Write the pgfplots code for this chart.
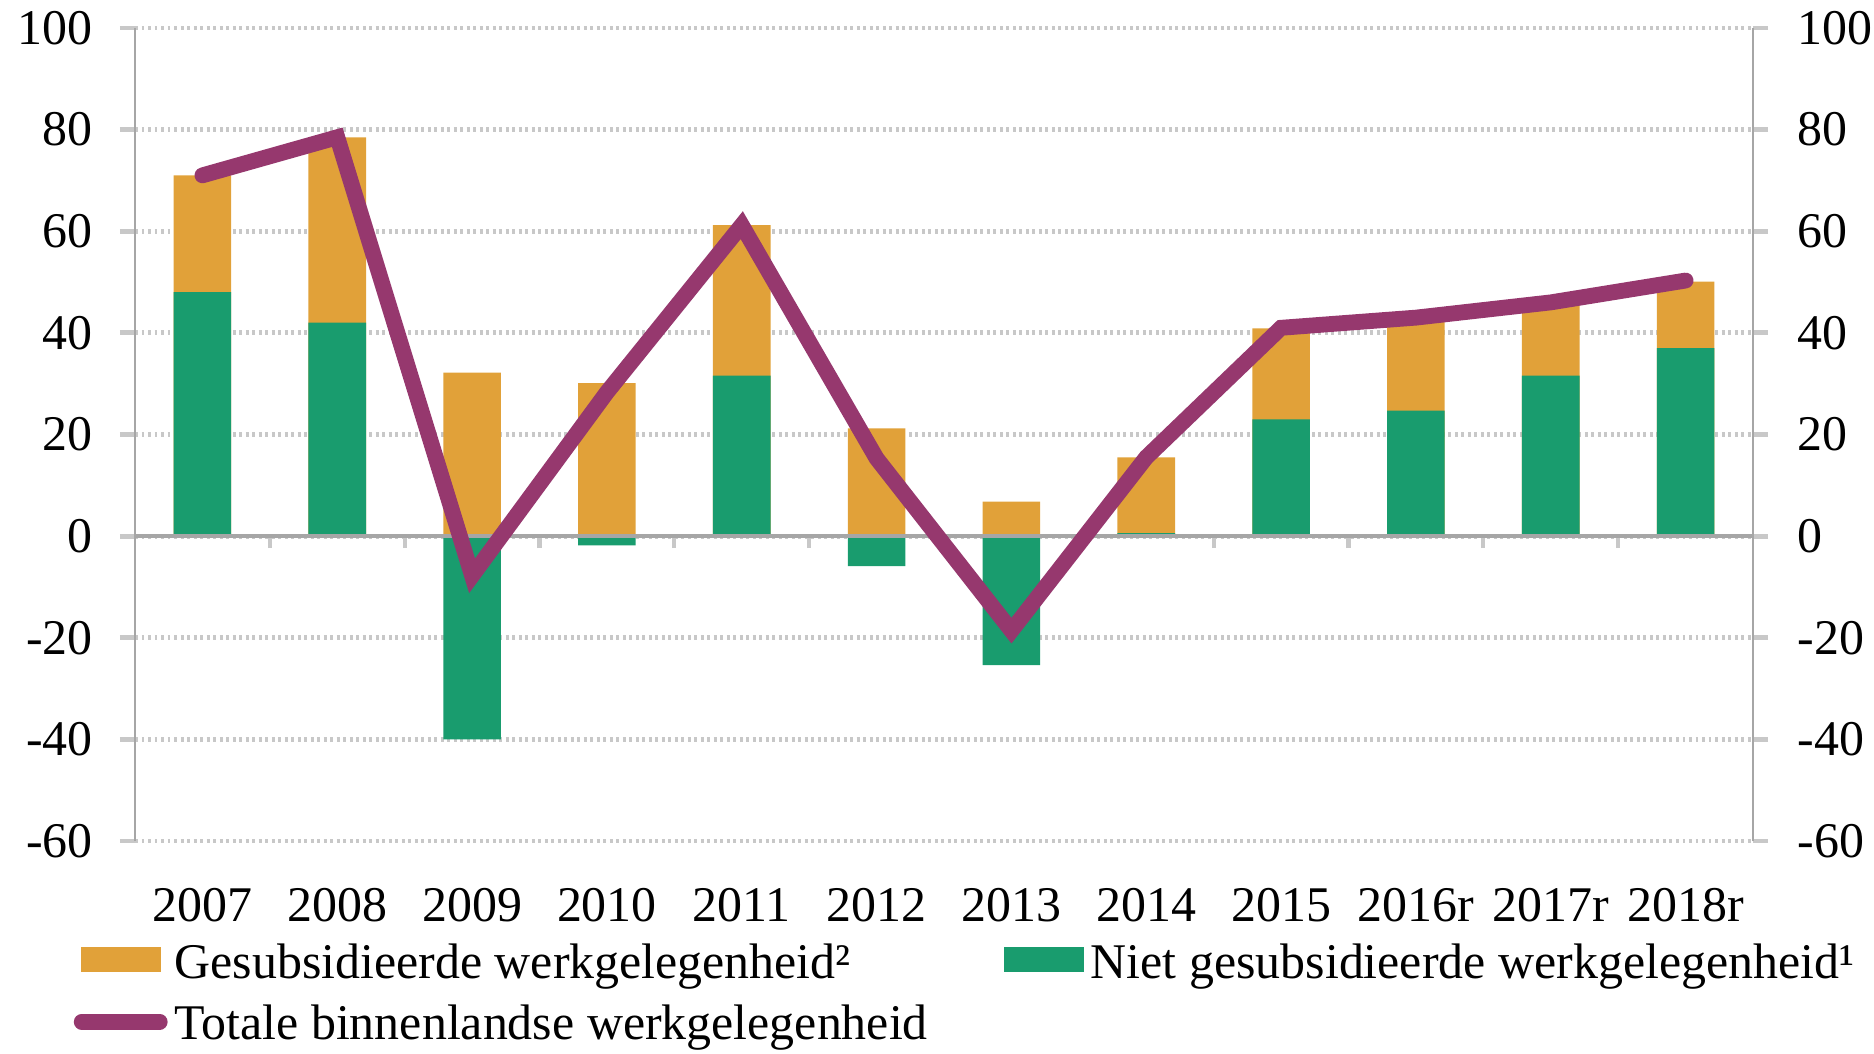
\documentclass[border=0pt]{standalone}
\usepackage{pgfplots}
\pgfplotsset{compat=1.18}
\usepackage{fontspec}
\setmainfont{Liberation Serif}
\definecolor{cOrange}{HTML}{E1A139}
\definecolor{cGreen}{HTML}{199C6E}
\definecolor{cPurple}{HTML}{96386E}
\definecolor{cGrid}{HTML}{C8C8C8}
\definecolor{cAxis}{HTML}{A6A6A6}
\begin{document}
\begin{tikzpicture}
\useasboundingbox (-1.35,-2.12) rectangle (17.39,8.41);
\pgfplotsset{
  base/.style={
    scale only axis, width=16.18cm, height=8.13cm,
    at={(0,0)}, anchor=south west,
    xmin=-0.5, xmax=11.5, ymin=-60, ymax=100,
    ytick={-60,-40,...,100},
    /pgf/number format/assume math mode=true,
    tick label style={font=\fontsize{14.2}{16}\selectfont},
  }
}
% grid, bars, legend
\begin{axis}[base,
  separate axis lines,
  every outer x axis line/.append style={draw=none},
  every outer y axis line/.append style={draw=cAxis, line width=0.8pt},
  ymajorgrids, grid style={cGrid, line width=1.4pt, dash pattern=on 0.85pt off 1pt},
  ytick pos=left, tick align=outside, major tick length=0.15cm,
  ytick style={cGrid, line width=1.4pt},
  yticklabel style={xshift=-0.15cm},
  xtick={0,...,11}, xtick style={draw=none},
  xticklabels={2007,2008,2009,2010,2011,2012,2013,2014,2015,2016r,2017r,2018r},
  xticklabel style={yshift=-0.2cm},
  legend columns=2,
  legend cell align=left,
  legend style={at={(-0.0383,-0.1164)}, anchor=north west, draw=none, fill=none,
    font=\fontsize{14.2}{16}\selectfont, inner sep=0pt,
    /tikz/every even column/.append style={column sep=0.62cm},
    row sep=0.08cm},
]
\addplot[ybar, bar width=0.576cm, bar shift=0pt, fill=cOrange, draw=none,
  legend image code/.code={\path[draw=none,fill=none] (0,0) rectangle (0.87cm,0.1cm);\fill[cOrange] (0.07cm,-0.09cm) rectangle (0.87cm,0.16cm);}]
  coordinates {(0,71.0) (1,78.5) (2,32.2) (3,30.1) (4,61.2) (5,21.2) (6,6.8) (7,15.5) (8,40.9) (9,43.0) (10,46.0) (11,50.1)};
\addlegendentry{Gesubsidieerde werkgelegenheid²}
\addplot[ybar, bar width=0.576cm, bar shift=0pt, fill=cGreen, draw=none,
  legend image code/.code={\path[draw=none,fill=none] (0,0) rectangle (0.87cm,0.1cm);\fill[cGreen] (0.07cm,-0.09cm) rectangle (0.87cm,0.16cm);}]
  coordinates {(0,48.0) (1,42.0) (2,-40.0) (3,-1.8) (4,31.6) (5,-5.9) (6,-25.4) (7,0.6) (8,23.0) (9,24.7) (10,31.6) (11,37.0)};
\addlegendentry{Niet gesubsidieerde werkgelegenheid¹}
\addlegendimage{legend image code/.code={\path[draw=none,fill=none] (0,0) rectangle (0.87cm,0.1cm);\draw[cPurple, line width=4.5pt, line cap=round] (0.08cm,0.035cm) -- (0.86cm,0.035cm);}}
\addlegendentry{Totale binnenlandse werkgelegenheid}
\end{axis}
% zero line with ticks
\begin{axis}[base,
  axis x line=middle, axis y line=none,
  axis line style={-},
  x axis line style={draw=cAxis, line width=1pt},
  xtick={0.5,1.5,...,10.5}, xticklabels={},
  tick align=outside, major tick length=0.12cm,
  xtick style={cGrid, line width=1.2pt},
]
\end{axis}
% total line and right axis
\begin{axis}[base,
  axis y line*=right, axis x line=none,
  axis line style={-},
  y axis line style={draw=cAxis, line width=0.8pt},
  tick align=outside, major tick length=0.15cm,
  ytick style={cGrid, line width=1.4pt},
  yticklabel style={xshift=0.17cm},
]
\addplot[cPurple, line width=4.5pt, line cap=round, line join=miter, mark=none]
  coordinates {(0,71.0) (1,78.5) (2,-7.8) (3,28.3) (4,61.2) (5,15.3) (6,-18.6) (7,15.5) (8,41.0) (9,43.0) (10,46.0) (11,50.3)};
\end{axis}
\end{tikzpicture}
\end{document}
